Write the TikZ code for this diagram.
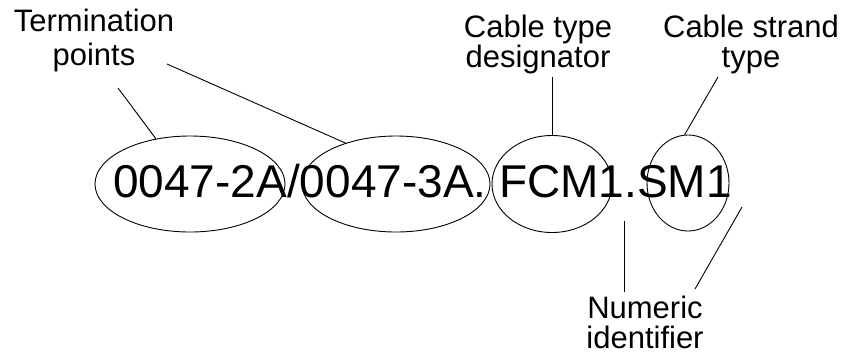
\documentclass[tikz,border=0pt]{standalone}
\usepackage{fontspec}
\setmainfont{Liberation Sans}
\usetikzlibrary{shapes.geometric}
\begin{document}
\begin{tikzpicture}[x=1pt,y=-1pt,
  lbl/.style={align=center,inner sep=0pt,font=\fontsize{31}{30}\selectfont},
  ring/.style={draw,ellipse,inner sep=0pt,line width=0.9pt},
  conn/.style={draw,line width=0.9pt}]
\path[use as bounding box] (0,0) rectangle (843,362);
% main code
\node[anchor=base west,inner sep=0pt,font=\fontsize{46}{46}\selectfont] (code) at (113,197) {0047-2A/0047-3A. FCM1.SM1};
% ellipses
\node[ring,minimum width=190pt,minimum height=96pt] (e1) at (190,184) {};
\node[ring,minimum width=188pt,minimum height=96pt] (e2) at (396,184) {};
\node[ring,minimum width=120pt,minimum height=97pt] (e3) at (552,184) {};
\node[ring,minimum width=82pt,minimum height=96pt] (e4) at (688,183) {};
% labels
\node[lbl,anchor=north,font=\fontsize{31}{34}\selectfont] (term) at (94,9) {Termination\\points};
\node[lbl,anchor=north] (ctype) at (538,15) {Cable type\\designator};
\node[lbl,anchor=north] (cstrand) at (751,15) {Cable strand\\type};
\node[lbl,anchor=north] (numid) at (645,296) {Numeric\\identifier};
% connector ends
\coordinate (t1) at (118,88);
\coordinate (t2) at (167,64);
\coordinate (c1) at (552,77);
\coordinate (s1) at (718,77);
\coordinate (n1) at (624,292);
\coordinate (n1e) at (624,221);
\coordinate (n2) at (695,289);
\coordinate (n2e) at (742,207);
% connectors
\draw[conn] (t1) -- (e1.127);
\draw[conn] (t2) -- (e2.141);
\draw[conn] (c1) -- (e3.north);
\draw[conn] (s1) -- (e4.94);
\draw[conn] (n1) -- (n1e);
\draw[conn] (n2) -- (n2e);
\end{tikzpicture}
\end{document}
